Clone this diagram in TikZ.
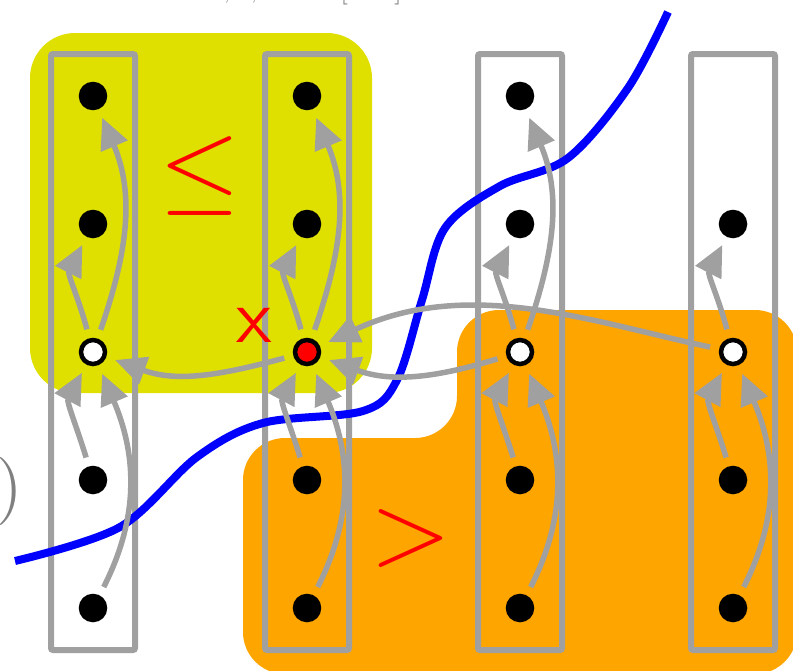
\documentclass[tikz,border=0pt]{standalone}
\usetikzlibrary{arrows.meta}
\definecolor{ylw}{RGB}{224,224,0}
\definecolor{org}{RGB}{255,165,0}
\definecolor{gry}{RGB}{160,160,160}
\definecolor{txtgry}{RGB}{128,128,128}
\begin{document}
\begin{tikzpicture}[x=1pt,y=1pt,
  dotblack/.style={circle,draw=black,fill=black,line width=4.5pt,minimum size=24pt,inner sep=0pt,outer sep=11.5pt},
  dotwhite/.style={dotblack,fill=white},
  dotred/.style={dotblack,fill=red},
  colbox/.style={draw=gry,line width=6pt,rounded corners=2pt},
  garrow/.style={draw=gry,line width=5.5pt,-{Triangle[length=31pt,width=28pt]}},
  bigsym/.style={text=red,inner sep=0pt},
  graytext/.style={text=txtgry,inner sep=0pt},
  cut/.style={draw=blue,line width=8pt}]
\useasboundingbox (0,0) rectangle (793,-670);
% regions
\fill[ylw,rounded corners=45pt] (30,-33) rectangle (372,-393);
\fill[org,rounded corners=42pt] (620,-310) -- (797,-310) -- (797,-674) -- (243,-674) -- (243,-438) -- (457,-438) -- (457,-310) -- cycle;
% column boxes
\foreach \x in {93,307,520,733}
  \draw[colbox] (\x-42,-54) rectangle (\x+42,-650);
% cut curve
\draw[cut] plot[smooth,tension=0.55] coordinates {(15,-561) (120,-527) (197,-457) (263,-423) (363,-411) (397,-380) (422,-300) (445,-228) (500,-186) (568,-158) (628,-88) (668,-12)};
% nodes
\foreach \c/\x in {1/93,2/307,3/520,4/733}{
  \foreach \r/\y in {2/224,4/480,5/608}
    \node[dotblack] (n\c\r) at (\x,-\y) {};
}
\foreach \c/\x in {1/93,2/307,3/520}
  \node[dotblack] (n\c1) at (\x,-96) {};
\node[dotwhite] (n13) at (93,-352) {};
\node[dotred] (n23) at (307,-352) {};
\node[dotwhite] (n33) at (520,-352) {};
\node[dotwhite] (n43) at (733,-352) {};
% column edges
\foreach \c in {1,2,3,4}{
  \draw[garrow] (n\c3) to[out=105,in=243] (n\c2);
  \draw[garrow] (n\c4) to[out=107,in=242] (n\c3);
  \draw[garrow] (n\c5) to[out=63,in=293] (n\c3);
}
\foreach \c in {1,2,3}
  \draw[garrow] (n\c3) to[out=71,in=293] (n\c1);
% cross edges
\draw[garrow] (n23) to[out=195,in=340] (n13);
\draw[garrow] (n33) to[out=197,in=340] (n23);
\draw[garrow] (n43.168) .. controls +(168:120) and +(25:155) .. (n23.25);
% labels
\node[bigsym] (le) at (200,-176) {\scalebox{10.4}[10.2]{$\leq$}};
\node[bigsym] (gt) at (411,-538) {\scalebox{10.4}[10]{$>$}};
\node[bigsym] (xl) at (254,-325) {\scalebox{7.7}{\textsf{x}}};
\node[graytext] (rp) at (10,-491) {\scalebox{6.8}{)}};
% clipped text fragments at top
\node[graytext,anchor=base,font=\fontsize{30}{30}\selectfont] (f1) at (227,3) {,};
\node[graytext,anchor=base,font=\fontsize{30}{30}\selectfont] (f2) at (254,3) {,};
\node[graytext,anchor=base,font=\fontsize{30}{30}\selectfont] (f3) at (344,3) {[};
\node[graytext,anchor=base,font=\fontsize{30}{30}\selectfont] (f4) at (398,3) {]};
\end{tikzpicture}
\end{document}
